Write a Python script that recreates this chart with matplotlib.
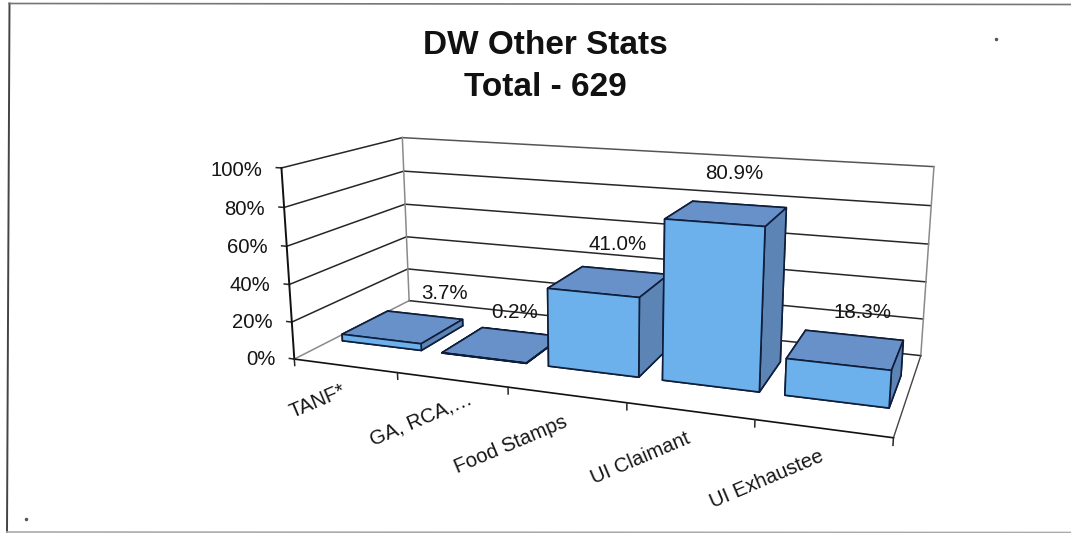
import numpy as np
import matplotlib
matplotlib.use("Agg")
import matplotlib.pyplot as plt
from matplotlib.lines import Line2D
from mpl_toolkits.mplot3d import proj3d

plt.rcParams["font.family"] = ["Liberation Sans", "DejaVu Sans"]

# data
categories = ["TANF*", "GA, RCA,…", "Food Stamps", "UI Claimant", "UI Exhaustee"]
values = [3.7, 0.2, 41.0, 80.9, 18.3]
y_ticks = [0, 20, 40, 60, 80, 100]

# camera, fitted against the corners of the chart box
ELEV, AZIM, ROLL = 13.9724, -69.9359, -0.0896
FOCAL = 0.3311
BOX = (3.0422, 1.1884, 1)
SCALE, TX, TY = 3508.715, 609.520, 264.250
GAP, DEPTH = 0.1013, 0.2987   # bar inset along x and y

# label nudges in pixels (right, down)
value_nudge = [(6, 3), (-19, 6), (-18, -1), (-13, -6), (2, 6)]
cat_nudge = [(1, 4), (21, -2), (2, 5), (2, 4), (3, 3)]

W, H = 1071, 533
FRONT, TOP, SIDE = "#6cb0ec", "#6791c8", "#5c85b6"
EDGE = "#0f1e3a"
DARK = "#262626"
GRAY = "#8a8a8a"
INK = "#151515"

fig = plt.figure(figsize=(W / 100, H / 100), dpi=100)
ax = fig.add_subplot(projection="3d", computed_zorder=False)
ax.set_xlim(0, 5, view_margin=0)
ax.set_ylim(0, 1, view_margin=0)
ax.set_zlim(0, 100, view_margin=0)
ax.view_init(ELEV, AZIM, ROLL)
ax.set_proj_type("persp", focal_length=FOCAL)
ax.set_box_aspect(BOX)
ax.set_axis_off()
ax.patch.set_alpha(0)

# place the square axes so the 2D view limits land on the fitted pixels
x0, x1 = ax.viewLim.intervalx
y0, y1 = ax.viewLim.intervaly
side = SCALE * (x1 - x0)
left = TX + SCALE * x0
bottom = H - TY + SCALE * y0
ax.set_position([left / W, bottom / H, side / W, side / H])
M = ax.get_proj()


def line(xs, ys, zs, color=DARK, lw=1.1):
    ax.plot(xs, ys, zs, color=color, lw=lw, zorder=1, clip_on=False)


def label(x, y, z, s, nudge=(0, 0), **kw):
    # text placed at a projected 3D point, so that rotation stays ours
    px, py, _ = proj3d.proj_transform(x, y, z, M)
    ax.text2D(px + nudge[0] / SCALE, py - nudge[1] / SCALE, s, transform=ax.transData,
              color=INK, zorder=20, clip_on=False, **kw)


# walls and grid
for z in y_ticks:
    line([0, 0], [0, 1], [z, z], DARK if z else GRAY)
    line([0, 5], [1, 1], [z, z], DARK if z < 100 else "#555555")
    line([-0.05, 0], [0, 0], [z, z])
line([0, 0], [1, 1], [0, 100], GRAY)
line([5, 5], [1, 1], [0, 100], GRAY)
line([0, 0], [0, 0], [0, 100], "#111111", 1.4)
line([5, 5], [0, 1], [0, 0], "#444444", 1.0)
line([0, 5], [0, 0], [0, 0], "#111111", 1.2)
for i in range(len(categories) + 1):
    line([i, i], [0, 0], [0, -3.5])

# bars, left to right so the nearer ones cover the others
for i, v in enumerate(values):
    b = ax.bar3d(i + GAP, DEPTH, 0, 1 - 2 * GAP, 1 - 2 * DEPTH, v,
                 color=[TOP, TOP, FRONT, FRONT, SIDE, SIDE], shade=False,
                 edgecolor=EDGE, linewidth=1.2, zorder=3 + i)
    b.set_clip_on(False)

# text
for z in y_ticks:
    label(-0.19, 0, z - 1.7, f"{z}%", ha="right", va="center", fontsize=14.6)
for i, (c, v) in enumerate(zip(categories, values)):
    label(i + 0.5, 0, -13.5, c, cat_nudge[i], ha="right", va="baseline", rotation=23,
          rotation_mode="anchor", fontsize=14.6)
    label(i + 0.5, 0.85, v + 10, f"{v:.1f}%", value_nudge[i], ha="center", va="center",
          fontsize=14.8)

fig.text(545 / W, 1 - 45.5 / H, "DW Other Stats", ha="center", va="center", fontsize=24,
         fontweight="bold", color="#111111")
fig.text(545 / W, 1 - 87.5 / H, "Total - 629", ha="center", va="center", fontsize=24,
         fontweight="bold", color="#111111")


# scanned frame and specks
def frame(xa, ya, xb, yb, color, lw):
    fig.add_artist(Line2D([xa / W, xb / W], [1 - ya / H, 1 - yb / H], color=color, lw=lw))


frame(9.5, 3.5, 7, 532, "#444444", 1.4)
frame(9, 3.5, 1071, 4.5, "#777777", 1.2)
frame(7, 532, 1071, 532.5, "#aaaaaa", 1.2)
fig.add_artist(Line2D([26 / W], [1 - 519 / H], marker="o", ms=1.5, color="#555555"))
fig.add_artist(Line2D([996 / W], [1 - 39 / H], marker="o", ms=1.5, color="#555555"))

fig.savefig("out.png", dpi=100)
